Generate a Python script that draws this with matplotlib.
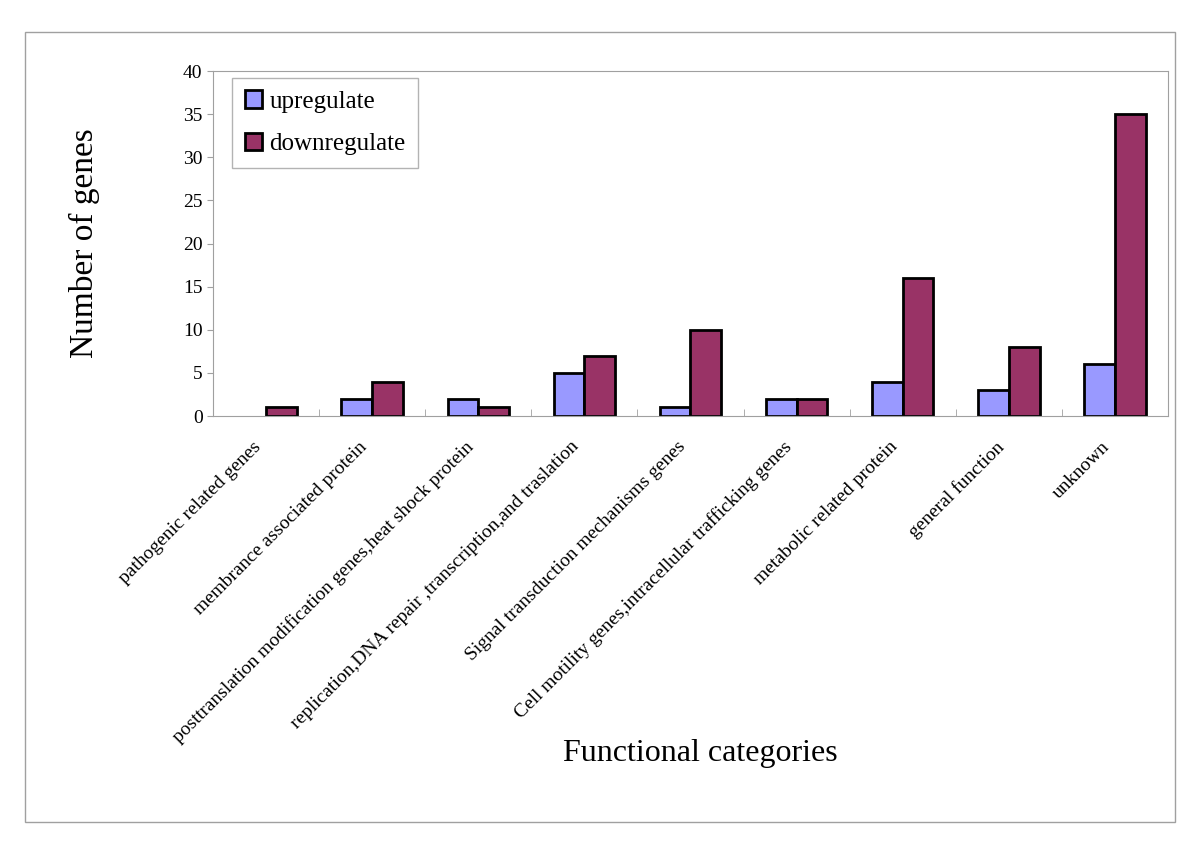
import matplotlib.pyplot as plt
import numpy as np
from matplotlib.patches import Rectangle, Patch

categories = ['pathogenic related genes', 'membrance associated protein',
              'posttranslation modification genes,heat shock protein',
              'replication,DNA repair ,transcription,and traslation',
              'Signal transduction mechanisms genes',
              'Cell motility genes,intracellular trafficking genes',
              'metabolic related protein', 'general function', 'unknown']
upregulate = [0, 2, 2, 5, 1, 2, 4, 3, 6]
downregulate = [1, 4, 1, 7, 10, 2, 16, 8, 35]
yticks = [0, 5, 10, 15, 20, 25, 30, 35, 40]

plt.rcParams['font.family'] = ['Liberation Serif', 'DejaVu Serif']

fig = plt.figure(figsize=(12, 8.56), dpi=100)
fig.patches.append(Rectangle((25 / 1200, 1 - 822 / 856), 1150 / 1200, 790 / 856,
                             transform=fig.transFigure, fill=False,
                             edgecolor='#a0a0a0', linewidth=1))
ax = fig.add_axes([213 / 1200, 1 - 416 / 856, 955 / 1200, 345 / 856])

x = np.arange(len(categories))
w = 0.29
up_bars = ax.bar(x - w / 2, upregulate, w, color='#9999FF', edgecolor='black',
                 linewidth=2)
down_bars = ax.bar(x + w / 2, downregulate, w, color='#993366', edgecolor='black',
                   linewidth=2)
# no outline for empty bars
for b in list(up_bars) + list(down_bars):
    if b.get_height() == 0:
        b.set_visible(False)

ax.set_xlim(-0.5, len(categories) - 0.5)
ax.set_ylim(0, 40)
ax.set_yticks(yticks)
ax.tick_params(axis='y', labelsize=14, length=4, color='#a0a0a0')
ax.set_xticks(x - 0.13)
ax.set_xticklabels(categories, rotation=45, ha='right', rotation_mode='anchor',
                   fontsize=14)
ax.tick_params(axis='x', length=0, pad=16)
# small marks between categories
ax.set_xticks(np.arange(len(categories) + 1) - 0.5, minor=True)
ax.tick_params(axis='x', which='minor', direction='in', length=5, color='#a0a0a0')

for s in ax.spines.values():
    s.set_color('#a0a0a0')

ax.set_ylabel('Number of genes', fontsize=24, labelpad=60)
ax.set_xlabel('Functional categories', fontsize=23)
ax.xaxis.set_label_coords(0.51, -0.935)

handles = [Patch(facecolor='#9999FF', edgecolor='black', linewidth=2, label='upregulate'),
           Patch(facecolor='#993366', edgecolor='black', linewidth=2, label='downregulate')]
leg = ax.legend(handles=handles, loc='upper left', bbox_to_anchor=(0.02, 0.98),
                fontsize=18, frameon=True, fancybox=False, edgecolor='#a0a0a0',
                borderaxespad=0,
                handlelength=0.7, handleheight=0.7, handletextpad=0.3,
                labelspacing=0.8, borderpad=0.5)
leg.get_frame().set_linewidth(1)

fig.savefig('out.png', dpi=100)
